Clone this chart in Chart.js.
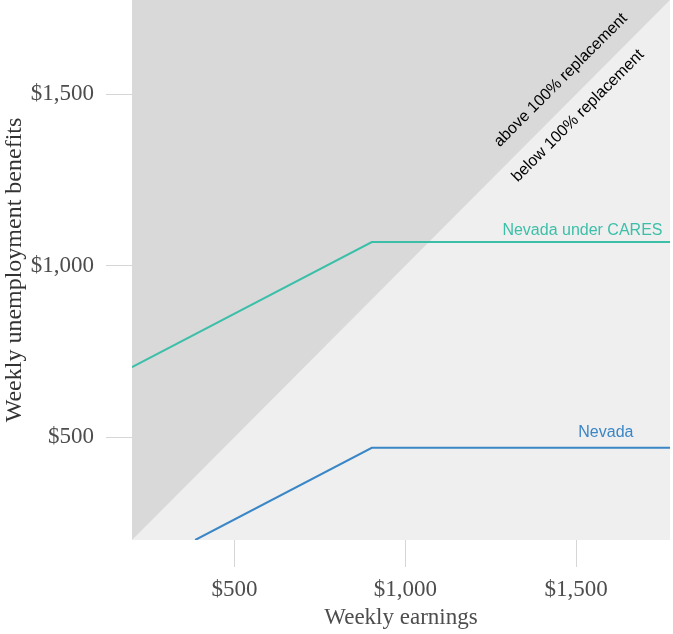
<!DOCTYPE html>
<html>
<head>
<meta charset="utf-8">
<script src="https://cdn.jsdelivr.net/npm/chart.js@4"></script>
<style>
  body { margin: 0; background: #fff; }
</style>
</head>
<body>
<canvas id="myChart" width="673" height="634"></canvas>
<script>
// values
var axisMin = 200, axisMax = 1775;
var tickValues = [500, 1000, 1500];

var nevadaX = [385, 902, 1775];
var nevadaY = [200, 469, 469];
var caresX = [200, 902, 1775];
var caresY = [704, 1069, 1069];
var parityX = [200, 1775];
var parityY = [200, 1775];

var labels = [
    { text: 'Nevada under CARES', x: 1753, y: 1090, color: '#3cbfa8', align: 'right', rot: 0 },
    { text: 'Nevada', x: 1668, y: 500, color: '#3a86c6', align: 'right', rot: 0 },
    { text: 'above 100% replacement', x: 1455, y: 1541, color: '#000', align: 'center', rot: -45 },
    { text: 'below 100% replacement', x: 1506, y: 1437, color: '#000', align: 'center', rot: -45 }
];

function pts(xs, ys) {
    var out = [];
    for (var i = 0; i < xs.length; i++) out.push({ x: xs[i], y: ys[i] });
    return out;
}

function money(v) {
    return '$' + v.toLocaleString('en-US');
}

var plotBg = {
    id: 'plotBg',
    beforeDraw: function (chart) {
        var a = chart.chartArea, ctx = chart.ctx;
        ctx.save();
        ctx.fillStyle = '#efefef';
        ctx.fillRect(a.left, a.top, a.right - a.left, a.bottom - a.top);
        ctx.restore();
    }
};

var notes = {
    id: 'notes',
    afterDatasetsDraw: function (chart) {
        var ctx = chart.ctx, xs = chart.scales.x, ys = chart.scales.y;
        ctx.save();
        ctx.font = '16px "Liberation Sans", Arial, sans-serif';
        labels.forEach(function (l) {
            var px = xs.getPixelForValue(l.x), py = ys.getPixelForValue(l.y);
            ctx.save();
            ctx.translate(px, py);
            ctx.rotate(l.rot * Math.PI / 180);
            ctx.fillStyle = l.color;
            ctx.textAlign = l.align;
            ctx.textBaseline = l.rot ? 'middle' : 'alphabetic';
            ctx.fillText(l.text, 0, 0);
            ctx.restore();
        });
        ctx.restore();
    }
};

var serif = { family: '"Liberation Serif", "Times New Roman", serif', size: 23 };
var serifTitle = { family: '"Liberation Serif", "Times New Roman", serif', size: 24 };

function ticksFrom(s) {
    s.ticks = tickValues.map(function (v) { return { value: v }; });
}

var ctx = document.getElementById('myChart').getContext('2d');
var myChart = new Chart(ctx, {
    type: 'line',
    data: {
        datasets: [{
            label: 'Nevada under CARES',
            data: pts(caresX, caresY),
            borderColor: '#3cbfa8',
            borderWidth: 2,
            pointRadius: 0,
            fill: false,
            order: 1
        }, {
            label: 'Nevada',
            data: pts(nevadaX, nevadaY),
            borderColor: '#3a86c6',
            borderWidth: 2,
            pointRadius: 0,
            fill: false,
            order: 1
        }, {
            label: '100% replacement',
            data: pts(parityX, parityY),
            borderWidth: 0,
            borderColor: 'rgba(0,0,0,0)',
            backgroundColor: '#d9d9d9',
            pointRadius: 0,
            fill: 'end',
            order: 5
        }]
    },
    options: {
        responsive: false,
        animation: false,
        layout: { padding: { top: 0, right: 3, left: 0, bottom: 0 } },
        plugins: {
            legend: { display: false },
            tooltip: { enabled: false }
        },
        scales: {
            x: {
                type: 'linear',
                min: axisMin,
                max: axisMax,
                afterBuildTicks: ticksFrom,
                afterFit: function (s) { s.height = 94; s.paddingLeft = 0; s.paddingRight = 0; },
                border: { display: false },
                grid: { drawOnChartArea: false, tickLength: 27, tickColor: '#d6d6d6', lineWidth: 1 },
                ticks: { color: '#4d4d4d', font: serif, padding: 9, maxRotation: 0, callback: money },
                title: { display: true, text: 'Weekly earnings', color: '#4d4d4d', font: serif, padding: { top: 0, bottom: 2 } }
            },
            y: {
                type: 'linear',
                min: axisMin,
                max: axisMax,
                afterBuildTicks: ticksFrom,
                afterFit: function (s) { s.width = 132; s.paddingTop = 0; s.paddingBottom = 0; },
                border: { display: false },
                grid: { drawOnChartArea: false, tickLength: 26, tickColor: '#d6d6d6', lineWidth: 1 },
                ticks: { color: '#4d4d4d', font: serif, padding: 12, callback: money },
                title: { display: true, text: 'Weekly unemployment benefits', color: '#333', font: serifTitle, padding: { top: 0, bottom: 0 } }
            }
        }
    },
    plugins: [plotBg, notes]
});
</script>
</body>
</html>
